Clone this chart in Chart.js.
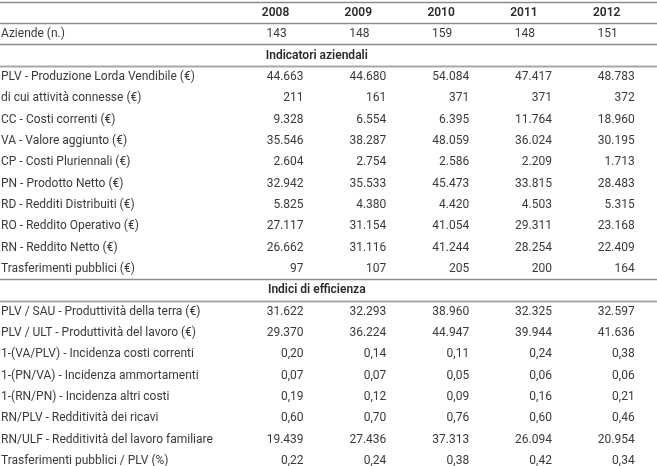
<!DOCTYPE html>
<html>
<head>
<meta charset="utf-8">
<script src="https://cdn.jsdelivr.net/npm/chart.js@4"></script>
<style>
  html, body { margin: 0; padding: 0; background: #ffffff; }
  #wrap { width: 657px; height: 466px; position: relative; }
</style>
</head>
<body>
<div id="wrap"><canvas id="c" width="657" height="466"></canvas></div>
<script>
// ---- data ----
const years = ['2008', '2009', '2010', '2011', '2012'];
const sectionTitles = ['Indicatori aziendali', 'Indici di efficienza'];
const firstRowLabel = 'Aziende (n.)';
const aziende = [143, 148, 159, 148, 151];
const labelsIndicatori = [
  'PLV - Produzione Lorda Vendibile (€)',
  'di cui attività connesse (€)',
  'CC - Costi correnti (€)',
  'VA - Valore aggiunto (€)',
  'CP - Costi Pluriennali (€)',
  'PN - Prodotto Netto (€)',
  'RD - Redditi Distribuiti (€)',
  'RO - Reddito Operativo (€)',
  'RN - Reddito Netto (€)',
  'Trasferimenti pubblici (€)'
];
const labelsIndici = [
  'PLV / SAU - Produttività della terra (€)',
  'PLV / ULT - Produttività del lavoro (€)',
  '1-(VA/PLV) - Incidenza costi correnti',
  '1-(PN/VA) - Incidenza ammortamenti',
  '1-(RN/PN) - Incidenza altri costi',
  'RN/PLV - Redditività dei ricavi',
  'RN/ULF - Redditività del lavoro familiare',
  'Trasferimenti pubblici / PLV (%)'
];
const decimalsIndici = [0, 0, 2, 2, 2, 2, 0, 2];

const ind2008 = [44663, 211, 9328, 35546, 2604, 32942, 5825, 27117, 26662, 97];
const ind2009 = [44680, 161, 6554, 38287, 2754, 35533, 4380, 31154, 31116, 107];
const ind2010 = [54084, 371, 6395, 48059, 2586, 45473, 4420, 41054, 41244, 205];
const ind2011 = [47417, 371, 11764, 36024, 2209, 33815, 4503, 29311, 28254, 200];
const ind2012 = [48783, 372, 18960, 30195, 1713, 28483, 5315, 23168, 22409, 164];

const idx2008 = [31622, 29370, 0.20, 0.07, 0.19, 0.60, 19439, 0.22];
const idx2009 = [32293, 36224, 0.14, 0.07, 0.12, 0.70, 27436, 0.24];
const idx2010 = [38960, 44947, 0.11, 0.05, 0.09, 0.76, 37313, 0.38];
const idx2011 = [32325, 39944, 0.24, 0.06, 0.16, 0.60, 26094, 0.42];
const idx2012 = [32597, 41636, 0.38, 0.06, 0.21, 0.46, 20954, 0.34];

// ---- build rows ----
const indByYear = [ind2008, ind2009, ind2010, ind2011, ind2012];
const idxByYear = [idx2008, idx2009, idx2010, idx2011, idx2012];

function fmt(v, dec) {
  let s = v.toFixed(dec);
  let [ip, dp] = s.split('.');
  ip = ip.replace(/\B(?=(\d{3})+(?!\d))/g, '.');
  return dp ? ip + ',' + dp : ip;
}

// row indices: 0 header, 1 aziende, 2 section1, 3..12 indicatori, 13 section2, 14..21 indici
const ROW_AZ = 1, ROW_S1 = 2, ROW_IND0 = 3, ROW_S2 = 3 + labelsIndicatori.length, ROW_IDX0 = ROW_S2 + 1;

const datasets = years.map((yr, c) => {
  const pts = [];
  pts.push({ x: c, y: 0, t: yr, kind: 'head' });
  pts.push({ x: c, y: ROW_AZ, t: fmt(aziende[c], 0), kind: 'center' });
  indByYear[c].forEach((v, i) => pts.push({ x: c, y: ROW_IND0 + i, t: fmt(v, 0), kind: 'val' }));
  idxByYear[c].forEach((v, i) => pts.push({ x: c, y: ROW_IDX0 + i, t: fmt(v, decimalsIndici[i]), kind: 'val' }));
  return { label: yr, data: pts, pointRadius: 0, showLine: false };
});

const rowLabelList = [
  { y: ROW_AZ, t: firstRowLabel },
  ...labelsIndicatori.map((t, i) => ({ y: ROW_IND0 + i, t })),
  ...labelsIndici.map((t, i) => ({ y: ROW_IDX0 + i, t }))
];
const sectionRows = [{ y: ROW_S1, t: sectionTitles[0] }, { y: ROW_S2, t: sectionTitles[1] }];
const ruleRows = [-0.5, 0.5, 1.5, 2.5, ROW_S2 - 0.5, ROW_S2 + 0.5];

const FONT = '"Roboto", "Liberation Sans", sans-serif';
const FS = 12;
const DY = 0.5;

const tablePlugin = {
  id: 'tableText',
  afterDatasetsDraw(chart) {
    const ctx = chart.ctx;
    const xs = chart.scales.x, ys = chart.scales.y;
    const area = chart.chartArea;
    ctx.save();
    // rules
    ruleRows.forEach((r, k) => {
      const y = Math.round(ys.getPixelForValue(r)) + 0.5;
      ctx.strokeStyle = (k === 3 || k === 5) ? '#a8a8a8' : '#8c8c8c';
      ctx.lineWidth = (k === 3 || k === 5) ? 2 : 1.4;
      ctx.beginPath();
      ctx.moveTo(area.left, y);
      ctx.lineTo(area.right, y);
      ctx.stroke();
    });
    ctx.textBaseline = 'middle';
    // row labels
    ctx.fillStyle = '#3a3a3a';
    ctx.font = '400 ' + FS + 'px ' + FONT;
    ctx.textAlign = 'left';
    rowLabelList.forEach(r => ctx.fillText(r.t, area.left + 1, ys.getPixelForValue(r.y) + DY));
    // section titles
    ctx.font = '600 ' + FS + 'px ' + FONT;
    ctx.fillStyle = '#2a2a2a';
    ctx.textAlign = 'center';
    const secX = xs.getPixelForValue(0.45);
    sectionRows.forEach(r => ctx.fillText(r.t, secX, ys.getPixelForValue(r.y) + DY));
    // cell values
    chart.data.datasets.forEach((ds, di) => {
      const meta = chart.getDatasetMeta(di);
      meta.data.forEach((el, i) => {
        const p = ds.data[i];
        if (p.kind === 'head') {
          ctx.font = '600 ' + FS + 'px ' + FONT;
          ctx.fillStyle = '#2a2a2a';
          ctx.textAlign = 'center';
          ctx.fillText(p.t, el.x - 4, el.y + DY);
        } else if (p.kind === 'center') {
          ctx.font = '400 ' + FS + 'px ' + FONT;
          ctx.fillStyle = '#3a3a3a';
          ctx.textAlign = 'center';
          ctx.fillText(p.t, el.x - 3, el.y + DY);
        } else {
          ctx.font = '400 ' + FS + 'px ' + FONT;
          ctx.fillStyle = '#3a3a3a';
          ctx.textAlign = 'right';
          ctx.fillText(p.t, el.x + 24, el.y + DY);
        }
      });
    });
    ctx.restore();
  }
};

new Chart(document.getElementById('c'), {
  type: 'scatter',
  data: { datasets },
  options: {
    responsive: false,
    animation: false,
    events: [],
    layout: { padding: 0 },
    plugins: { legend: { display: false }, tooltip: { enabled: false } },
    scales: {
      x: { type: 'linear', display: false, min: -3.376, max: 4.559 },
      y: { type: 'linear', display: false, reverse: true, min: -0.58, max: 21.25 }
    }
  },
  plugins: [tablePlugin]
});
</script>
</body>
</html>
